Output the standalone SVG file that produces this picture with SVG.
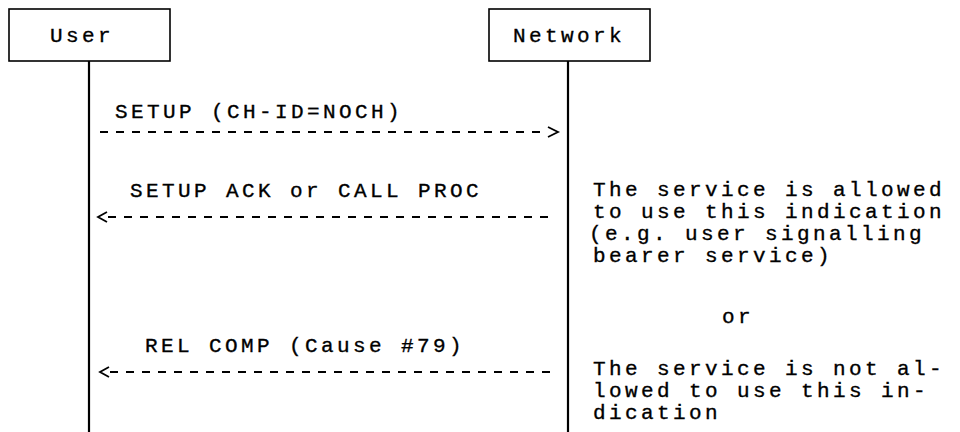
<svg xmlns="http://www.w3.org/2000/svg" width="960" height="432" viewBox="0 0 960 432">
  <style>
    .box { fill: #fff; stroke: #000; stroke-width: 1.6; }
    .life { stroke: #000; stroke-width: 2.2; }
    .msg { stroke: #000; stroke-width: 1.8; stroke-dasharray: 8 8; fill: none; }
    .head { stroke: #000; stroke-width: 1.8; fill: none; }
    text { font-family: "Liberation Mono", "Courier New", monospace; font-size: 21px; letter-spacing: 3.4px; fill: #000; stroke: #000; stroke-width: 0.35; }
  </style>
  <rect width="960" height="432" fill="#fff"/>

  <!-- participants -->
  <g id="user">
    <rect class="box" x="9" y="9" width="161" height="52"/>
    <text x="50" y="42">User</text>
  </g>
  <g id="network">
    <rect class="box" x="489" y="9" width="161" height="52"/>
    <text x="513" y="42">Network</text>
  </g>

  <!-- lifelines and messages -->
  <g id="connectors">
    <line class="life" x1="89" y1="61" x2="89" y2="432"/>
    <line class="life" x1="568" y1="61" x2="568" y2="432"/>

    <line class="msg" x1="100" y1="132" x2="548" y2="132"/>
    <polyline class="head" points="548,127 558,132 548,137"/>

    <line class="msg" x1="108" y1="217" x2="556" y2="217"/>
    <polyline class="head" points="107,212 98,217 107,222"/>

    <line class="msg" x1="110" y1="372" x2="556" y2="372"/>
    <polyline class="head" points="109,367 100,372 109,377"/>
  </g>

  <!-- message labels -->
  <g id="labels">
    <text x="115" y="118">SETUP (CH-ID=NOCH)</text>
    <text x="130" y="197">SETUP ACK or CALL PROC</text>
    <text x="145" y="352">REL COMP (Cause #79)</text>
  </g>

  <!-- notes beside the network lifeline -->
  <g id="notes">
    <text x="593" y="196">The service is allowed</text>
    <text x="593" y="218">to use this indication</text>
    <text x="589" y="240">(e.g. user signalling</text>
    <text x="593" y="262">bearer service)</text>
    <text x="722" y="323">or</text>
    <text x="593" y="375">The service is not al-</text>
    <text x="593" y="397">lowed to use this in-</text>
    <text x="593" y="419">dication</text>
  </g>
</svg>
